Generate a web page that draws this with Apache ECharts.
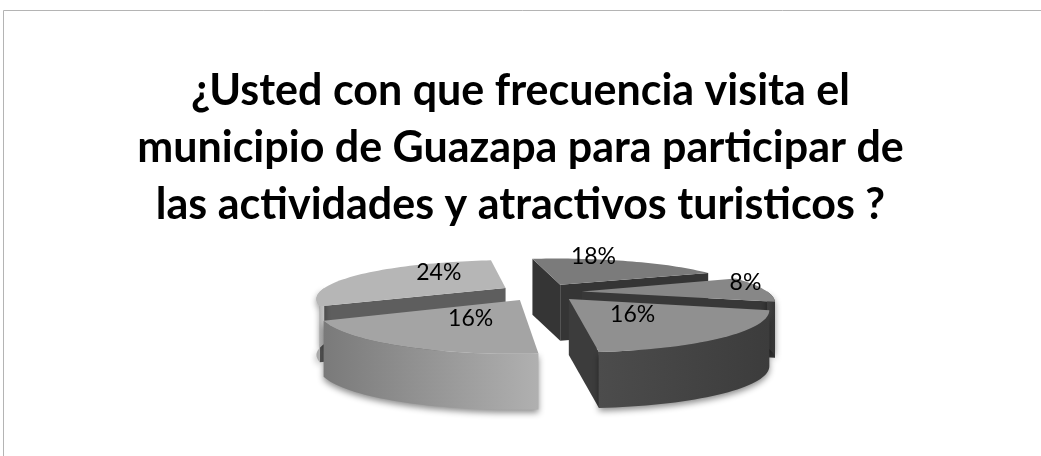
<!DOCTYPE html>
<html>
<head>
<meta charset="utf-8">
<script src="https://cdn.jsdelivr.net/npm/echarts@6/dist/echarts.min.js"></script>
<style>
  html, body { margin: 0; padding: 0; background: #fff; }
  #chart { width: 1041px; height: 456px; }
</style>
</head>
<body>
<div id="chart"></div>
<script>
// data, clockwise from the top
const categories = ['Opción 1', 'Opción 2', 'Opción 3', 'Opción 4', 'Opción 5'];
const values = [18, 8, 16, 16, 24];
const labels = ['18%', '8%', '16%', '16%', '24%'];

const titleText = '¿Usted con que frecuencia visita el\nmunicipio de Guazapa para participar de\nlas actividades y atractivos turisticos ?';

// look of the 3D pie
const CX = 541, CY = 292, RX = 186, RY = 40, DEPTH = 56;
const EXPLODE = 0.22;   // fraction of radius
const PERSP = 0.25;     // front gets bigger, back smaller
const START = -10;
const topColors = ['#7b7b7b', '#878787', '#909090', '#a4a4a4', '#b6b6b6'];
const wallColors = [
  ['#333333', '#3f3f3f'],
  ['#363636', '#424242'],
  ['#3c3c3c', '#4c4c4c'],
  ['#b0b0b0', '#7a7a7a'],
  ['#c4c4c4', '#a6a6a6']
];
const sideColors = ['#353535', '#383838', '#3c3c3c', '#6a6a6a', '#5e5e5e'];

const total = values.reduce((a, b) => a + b, 0);
const seriesData = [];
let acc = 0;
values.forEach((v, i) => {
  seriesData.push({ name: categories[i], value: [v, acc] });
  acc += v;
});

const rad = d => d * Math.PI / 180;

// plane point (u to the right, w toward the viewer) -> screen
function project(u, w, dy) {
  const s = 1 + PERSP * w;
  return [CX + u * RX * s, CY + w * RY * s + dy];
}

function renderItem(params, api) {
  const i = params.dataIndex;
  const v = api.value(0);
  const before = api.value(1);
  const a0 = START + before / total * 360;
  const a1 = a0 + v / total * 360;
  const am = (a0 + a1) / 2;
  const eu = EXPLODE * Math.sin(rad(am)), ew = -EXPLODE * Math.cos(rad(am));
  const apex = (dy = 0) => project(eu, ew, dy);
  const rim = (t, r = 1, dy = 0) => project(eu + r * Math.sin(rad(t)), ew - r * Math.cos(rad(t)), dy);
  const arc = (t0, t1, dy) => {
    const pts = [];
    const n = Math.max(2, Math.ceil((t1 - t0) / 2));
    for (let k = 0; k <= n; k++) pts.push(rim(t0 + (t1 - t0) * k / n, 1, dy));
    return pts;
  };
  const base = Math.round((1 - Math.cos(rad(am))) * 100) * 10;
  const children = [];

  // radial walls
  if (Math.sin(rad(a0)) < 0) {
    children.push({
      type: 'polygon', z2: base + 1,
      shape: { points: [apex(), rim(a0), rim(a0, 1, DEPTH), apex(DEPTH)] },
      style: { fill: sideColors[i] }
    });
  }
  if (Math.sin(rad(a1)) > 0) {
    children.push({
      type: 'polygon', z2: base + 1,
      shape: { points: [apex(), rim(a1), rim(a1, 1, DEPTH), apex(DEPTH)] },
      style: { fill: sideColors[i] }
    });
  }

  // outer curved wall, front half only
  [[90, 270], [450, 630], [-270, -90]].forEach(([f0, f1]) => {
    const t0 = Math.max(a0, f0), t1 = Math.min(a1, f1);
    if (t1 <= t0) return;
    const pts = arc(t0, t1, 0).concat(arc(t0, t1, DEPTH).reverse());
    children.push({
      type: 'polygon', z2: base + 2,
      shape: { points: pts },
      style: {
        fill: new echarts.graphic.LinearGradient(1, 0, 0, 0, [
          { offset: 0, color: wallColors[i][0] },
          { offset: 1, color: wallColors[i][1] }
        ]),
        shadowColor: 'rgba(0,0,0,0.45)', shadowBlur: 6, shadowOffsetY: 3
      }
    });
  });

  // top face
  children.push({
    type: 'polygon', z2: base + 3,
    shape: { points: [apex()].concat(arc(a0, a1, 0)) },
    style: { fill: topColors[i] }
  });

  // label: small slices near the rim, back ones lifted a little
  const small = v / total < 0.12;
  const lift = -18 * Math.max(0, Math.cos(rad(am)));
  const lp = rim(am, small ? 0.9 : 0.45, (small ? -6 : 0) + lift);
  children.push({
    type: 'text', z2: 5000,
    x: lp[0], y: lp[1],
    style: {
      text: labels[i], fill: '#000',
      font: '23px Lato, "Open Sans", sans-serif',
      align: 'center', verticalAlign: 'middle'
    }
  });

  return { type: 'group', children };
}

const chart = echarts.init(document.getElementById('chart'));
chart.setOption({
  backgroundColor: '#fff',
  animation: false,
  title: {
    text: titleText,
    left: 'center',
    top: 63,
    padding: 0,
    textStyle: {
      fontFamily: 'Lato, "Open Sans", sans-serif',
      fontWeight: 'bold',
      fontSize: 43,
      lineHeight: 57,
      color: '#000'
    }
  },
  graphic: [{
    type: 'rect',
    shape: { x: 3.5, y: 10.5, width: 1100, height: 500 },
    style: { fill: 'none', stroke: '#b4b4b4', lineWidth: 1 },
    silent: true
  }],
  series: [{
    type: 'custom',
    coordinateSystem: 'none',
    renderItem: renderItem,
    data: seriesData
  }]
});
</script>
</body>
</html>
